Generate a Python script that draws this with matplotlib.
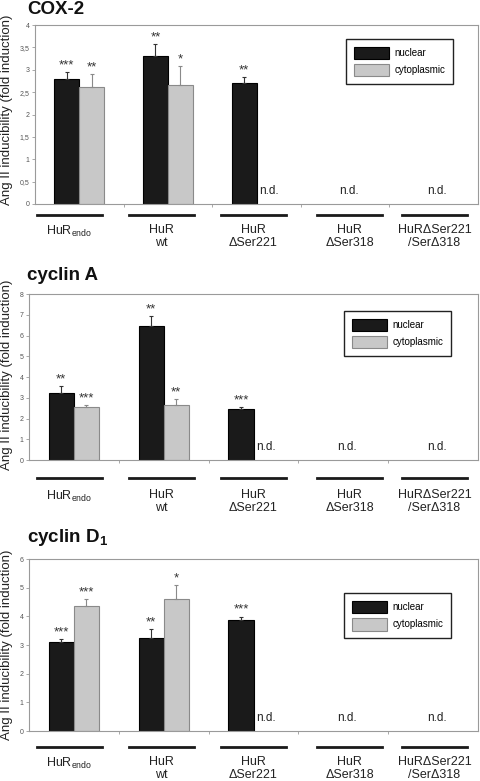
import matplotlib
matplotlib.use('Agg')
import matplotlib.pyplot as plt
import numpy as np
from matplotlib.ticker import FuncFormatter, MultipleLocator
from matplotlib.lines import Line2D
from matplotlib.patches import Patch

plt.rcParams['font.family'] = ['Liberation Sans', 'DejaVu Sans']
plt.rcParams['mathtext.fontset'] = 'custom'
plt.rcParams['mathtext.rm'] = 'Liberation Sans'
plt.rcParams['mathtext.it'] = 'Liberation Sans:italic'
plt.rcParams['mathtext.bf'] = 'Liberation Sans:bold'

# ---------------- data ----------------
group_labels = ['HuR$_{\\mathrm{endo}}$', 'HuR\nwt', 'HuR\n\u0394Ser221',
                'HuR\n\u0394Ser318', 'HuR\u0394Ser221\n/Ser\u0394318']
series_names = ['nuclear', 'cytoplasmic']
titles = ['COX-2', 'cyclin A', 'cyclin D$_\\mathregular{1}$']
y_label = 'Ang II inducibility (fold induction)'

cox2_nuclear = [2.79, 3.31, 2.70, None, None]
cox2_nuclear_err = [0.15, 0.26, 0.13, None, None]
cox2_cyto = [2.61, 2.67, None, None, None]
cox2_cyto_err = [0.29, 0.42, None, None, None]
cox2_nuclear_sig = ['***', '**', '**', '', '']
cox2_cyto_sig = ['**', '*', '', '', '']

cyclinA_nuclear = [3.25, 6.45, 2.46, None, None]
cyclinA_nuclear_err = [0.33, 0.47, 0.10, None, None]
cyclinA_cyto = [2.54, 2.63, None, None, None]
cyclinA_cyto_err = [0.10, 0.29, None, None, None]
cyclinA_nuclear_sig = ['**', '**', '***', '', '']
cyclinA_cyto_sig = ['***', '**', '', '', '']

cyclinD1_nuclear = [3.10, 3.23, 3.87, None, None]
cyclinD1_nuclear_err = [0.12, 0.33, 0.12, None, None]
cyclinD1_cyto = [4.36, 4.60, None, None, None]
cyclinD1_cyto_err = [0.25, 0.50, None, None, None]
cyclinD1_nuclear_sig = ['***', '**', '***', '', '']
cyclinD1_cyto_sig = ['***', '*', '', '', '']

y_max = [4, 8, 6]
y_step = [0.5, 1, 1]

# ---------------- layout (pixels) ----------------
W, H = 480, 781
fig = plt.figure(figsize=(W / 100, H / 100), dpi=100)


def fx(px):
    return px / W


def fy(py):
    return 1 - py / H


axes_px = [(35, 478, 25, 204), (29, 478, 294, 460), (29, 478, 559, 731)]
legend_anchor = [(0.955, 0.95), (0.951, 0.928), (0.951, 0.831)]
title_y = [10, 275, 537]
ylabel_y = [110, 375, 645]
line_y = [215, 478, 747]
text_y = [224, 489, 756]
label_cx = [69, 161.5, 253.5, 349.5, 434.5]
label_half = 32.5

panels = [
    (cox2_nuclear, cox2_nuclear_err, cox2_cyto, cox2_cyto_err, cox2_nuclear_sig, cox2_cyto_sig),
    (cyclinA_nuclear, cyclinA_nuclear_err, cyclinA_cyto, cyclinA_cyto_err, cyclinA_nuclear_sig, cyclinA_cyto_sig),
    (cyclinD1_nuclear, cyclinD1_nuclear_err, cyclinD1_cyto, cyclinD1_cyto_err, cyclinD1_nuclear_sig, cyclinD1_cyto_sig),
]

black = '#1a1a1a'
grey = '#c8c8c8'
frame = '#9a9a9a'
bw = 0.28


def fmt(v, pos):
    s = ('%g' % v)
    return s.replace('.', ',')


for p, (nuc, nuc_e, cyt, cyt_e, nuc_s, cyt_s) in enumerate(panels):
    l, r, t, b = axes_px[p]
    ax = fig.add_axes([fx(l), fy(b), (r - l) / W, (b - t) / H])
    x = np.arange(len(group_labels))
    for vals, errs, sigs, off, fc, ec, errc in [
            (nuc, nuc_e, nuc_s, -bw / 2, black, '#000000', '#333333'),
            (cyt, cyt_e, cyt_s, bw / 2, grey, '#8a8a8a', '#8a8a8a')]:
        for i, v in enumerate(vals):
            if v is None:
                continue
            ax.bar(x[i] + off, v, width=bw, color=fc, edgecolor=ec, linewidth=0.8, zorder=2)
            e = errs[i]
            ax.errorbar(x[i] + off, v, yerr=[[0], [e]], fmt='none', ecolor=errc,
                        elinewidth=0.8, capsize=1.5, capthick=0.8, zorder=3)
            if sigs[i]:
                ax.annotate(sigs[i], (x[i] + off, v + e), xytext=(0, 0.5),
                            textcoords='offset points', ha='center', va='bottom',
                            fontsize=9.5, color='#333333')
    # n.d. labels
    for i in range(len(group_labels)):
        if nuc[i] is None and cyt[i] is None:
            ax.annotate('n.d.', (x[i] + 0.04, 0), xytext=(0, 5), textcoords='offset points',
                        ha='center', va='bottom', fontsize=8.5, color='#222222')
        elif cyt[i] is None:
            ax.annotate('n.d.', (x[i] + bw / 2, 0), xytext=(0, 5), textcoords='offset points',
                        ha='center', va='bottom', fontsize=8.5, color='#222222')

    ax.set_xlim(-0.5, len(group_labels) - 0.5)
    ax.set_ylim(0, y_max[p])
    ax.yaxis.set_major_locator(MultipleLocator(y_step[p]))
    ax.yaxis.set_major_formatter(FuncFormatter(fmt))
    ax.set_xticks(np.arange(len(group_labels) - 1) + 0.5)
    ax.set_xticklabels([])
    ax.tick_params(axis='x', length=2, width=0.6, color=frame, direction='out')
    ax.tick_params(axis='y', length=2, width=0.6, color=frame, labelsize=5,
                   labelcolor='#555555', pad=2)
    for s in ax.spines.values():
        s.set_color(frame)
        s.set_linewidth(0.8)

    fig.text(fx(7), fy(ylabel_y[p]), y_label, rotation=90, fontsize=9.5,
             ha='center', va='center', color='#222222')

    handles = [Patch(facecolor=black, edgecolor='#000000', linewidth=0.8),
               Patch(facecolor=grey, edgecolor='#8a8a8a', linewidth=0.8)]
    leg = ax.legend(handles, series_names, loc='upper right',
                    bbox_to_anchor=legend_anchor[p], fontsize=7,
                    handlelength=3.6, handleheight=1.6, labelspacing=0.5,
                    borderpad=0.8, handletextpad=0.6, fancybox=False,
                    framealpha=1, edgecolor='#222222')
    leg.get_frame().set_linewidth(1.0)

    fig.text(fx(27), fy(title_y[p]), titles[p], fontsize=13.5, fontweight='bold',
             ha='left', va='center', color='#111111')

    for i, lab in enumerate(group_labels):
        cx = label_cx[i]
        fig.add_artist(Line2D([fx(cx - label_half), fx(cx + label_half)],
                              [fy(line_y[p]), fy(line_y[p])], color='#1a1a1a', lw=2.0))
        fig.text(fx(cx), fy(text_y[p]), lab, fontsize=9, ha='center', va='top',
                 linespacing=1.15, color='#222222')

fig.savefig('out.png', dpi=100)
